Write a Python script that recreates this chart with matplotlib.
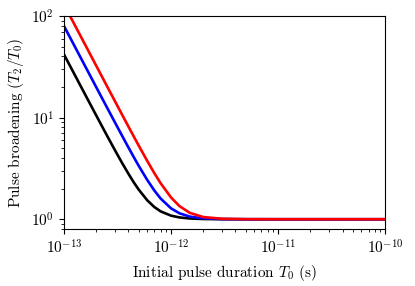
import numpy as np
import matplotlib
matplotlib.use("Agg")
import matplotlib.pyplot as plt

plt.rcParams["font.family"] = "serif"
plt.rcParams["font.serif"] = ["cmr10", "DejaVu Serif"]
plt.rcParams["mathtext.fontset"] = "cm"
plt.rcParams["axes.formatter.use_mathtext"] = True

# initial pulse duration T0 (s)
T0 = np.array([1.0, 1.25, 1.5, 2.0, 2.5, 3.0, 3.5, 4.0, 4.5, 5.0, 6.0, 7.0,
               8.0, 10.0, 12.0, 15.0, 20.0, 30.0, 50.0, 100.0, 1000.0]) * 1e-13

# broadening ratio T2/T0 read for each curve
black = [42.0, 26.9, 18.69, 10.55, 6.79, 4.77, 3.57, 2.81, 2.30, 1.955, 1.537,
         1.317, 1.196, 1.085, 1.042, 1.017, 1.0055, 1.001, 1.0, 1.0, 1.0]
blue = [80.0, 51.2, 35.57, 20.02, 12.84, 8.95, 6.61, 5.10, 4.075, 3.35, 2.437,
        1.915, 1.60, 1.281, 1.144, 1.061, 1.0198, 1.004, 1.0005, 1.0, 1.0]
red = [130.0, 83.2, 57.8, 32.52, 20.82, 14.48, 10.66, 8.19, 6.50, 5.30, 3.75,
       2.835, 2.264, 1.640, 1.347, 1.155, 1.0515, 1.0104, 1.0014, 1.0, 1.0]

xticks = [1e-13, 1e-12, 1e-11, 1e-10]
yticks = [1, 10, 100]

fig = plt.figure(figsize=(4.15, 2.86), dpi=100)
ax = fig.add_axes([0.154, 0.199, 0.774, 0.745])

ax.loglog(T0, black, color="black", lw=1.9)
ax.loglog(T0, blue, color="blue", lw=1.9)
ax.loglog(T0, red, color="red", lw=1.9)

ax.set_xlim(1e-13, 1e-10)
ax.set_ylim(0.8, 100)
ax.set_xticks(xticks)
ax.set_yticks(yticks)
ax.set_xlabel(r"Initial pulse duration $T_0$ (s)", fontsize=11)
ax.set_ylabel(r"Pulse broadening $(T_2/T_0)$", fontsize=11)
ax.tick_params(labelsize=11)

fig.savefig("out.png", dpi=100)
